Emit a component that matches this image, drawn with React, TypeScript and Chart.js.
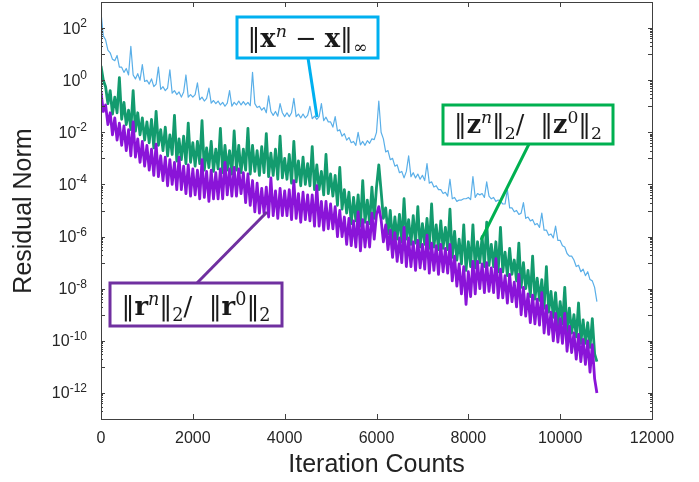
import React, { useEffect, useRef } from 'react';
import { Chart, registerables } from 'chart.js';

Chart.register(...registerables);

// ---- data (log10 of residual, one value every 50 iterations, 0 .. 10800) ----
const iterationStep = 50;

const blueLog10 = [
  2.6, 1.7, 1.55, 1.15, 1.05, 0.8, 0.75, 0.95, 0.5, 0.5,
  0.3, 0.45, 0.2, 1.3, 0.2, 0.05, 0.25, 0.0, 0.6, -0.05,
  0.0, -0.15, 0.05, -0.25, -0.15, 0.5, -0.35, -0.25, -0.4, -0.3,
  0.4, -0.5, -0.4, -0.55, -0.45, -0.65, -0.45, 0.2, -0.65, -0.55,
  -0.65, -0.55, -0.1, -0.75, -0.65, -0.8, -0.7, -0.3, -0.88, -0.78,
  -0.9, -0.8, -0.95, -0.85, -1.0, -0.88, -0.4, -1.0, -0.85, -0.95,
  -0.8, -0.95, -0.82, -0.95, -0.85, -0.98, 0.3, -0.9, -1.05, -1.0,
  -1.15, -1.05, -1.25, -0.6, -1.2, -1.35, -1.2, -1.38, -0.9, -1.25,
  -1.4, -1.25, -1.4, -1.25, -0.7, -1.4, -1.3, -1.45, -1.3, -1.45,
  -1.35, -1.0, -1.48, -1.38, -1.5, -1.4, -0.9, -1.55, -1.42, -1.6,
  -1.6, -1.8, -1.4, -1.95, -1.9, -2.15, -2.05, -2.3, -2.2, -2.4,
  -2.35, -2.5, -2.0, -2.48, -2.35, -2.5, -2.32, -2.42, -2.25, -2.28,
  -2.0, -0.8, -2.0, -2.25, -2.75, -2.7, -3.05, -3.0, -3.3, -3.25,
  -3.55, -3.5, -3.75, -3.5, -2.9, -3.7, -3.55, -3.75, -3.6, -3.8,
  -3.65, -3.85, -3.2, -3.95, -3.9, -4.1, -4.05, -4.2, -4.2, -4.35,
  -4.3, -4.45, -3.8, -4.55, -4.5, -4.65, -4.6, -4.6, -4.55, -4.55,
  -4.5, -4.58, -3.7, -4.5, -4.35, -4.4, -4.35, -4.5, -3.9, -4.45,
  -4.55, -4.5, -4.65, -4.6, -4.65, -4.75, -4.75, -4.2, -4.9, -4.9,
  -5.05, -5.0, -5.15, -5.1, -4.7, -5.3, -5.25, -5.4, -5.35, -5.55,
  -5.5, -5.65, -5.1, -5.75, -5.75, -5.95, -5.9, -6.05, -5.6, -6.15,
  -6.15, -6.35, -6.4, -6.65, -6.75, -6.75, -6.9, -7.15, -7.1, -7.35,
  -7.25, -7.5, -7.35, -7.65, -7.7, -7.95, -8.5,
];

const greenLog10 = [
  0.55, 0.0, -0.25, -0.9, -0.4, -1.3, -0.65, -1.25, 0.1, -1.5,
  -0.85, -1.7, -1.15, -1.9, -0.4, -1.95, -1.25, -2.1, -1.45, -2.3,
  -1.6, -2.4, -1.5, -2.6, -1.2, -2.5, -1.9, -2.7, -1.8, -2.9,
  -2.1, -2.85, -1.35, -3.1, -2.25, -3.05, -2.15, -3.2, -1.65, -3.15,
  -2.4, -3.3, -2.35, -3.2, -1.55, -3.45, -2.6, -3.35, -2.35, -3.5,
  -2.65, -3.4, -1.85, -3.55, -2.5, -3.45, -2.7, -3.6, -1.95, -3.45,
  -2.5, -3.55, -2.65, -3.45, -1.85, -3.6, -2.5, -3.5, -2.7, -3.65,
  -2.55, -3.55, -2.05, -3.7, -2.8, -3.65, -2.65, -3.8, -2.15, -3.75,
  -3.0, -3.8, -2.85, -3.95, -2.35, -3.9, -3.1, -4.05, -2.95, -4.0,
  -3.2, -4.05, -2.55, -4.2, -3.25, -4.2, -3.5, -4.4, -2.85, -4.35,
  -3.6, -4.45, -3.65, -4.8, -3.35, -4.95, -4.2, -5.1, -4.3, -5.5,
  -4.5, -5.4, -4.4, -5.6, -3.85, -5.45, -4.6, -5.5, -4.1, -5.3,
  -4.1, -3.25, -4.25, -5.3, -4.9, -5.9, -5.0, -6.2, -5.25, -6.1,
  -5.15, -6.2, -4.55, -6.1, -5.35, -6.3, -5.2, -6.25, -4.85, -6.4,
  -5.5, -6.3, -5.3, -6.45, -4.75, -6.4, -5.55, -6.5, -5.4, -6.45,
  -5.65, -6.5, -4.95, -6.8, -5.8, -6.9, -6.1, -7.05, -5.55, -7.3,
  -6.2, -7.15, -5.55, -7.2, -6.2, -7.0, -6.0, -7.15, -5.45, -7.1,
  -6.3, -7.15, -6.2, -7.35, -5.65, -7.35, -6.6, -7.5, -6.45, -7.45,
  -6.9, -7.7, -6.25, -7.95, -7.0, -8.0, -7.3, -8.3, -6.75, -8.4,
  -7.6, -8.45, -7.65, -8.75, -7.15, -8.9, -8.1, -9.1, -8.15, -9.4,
  -8.5, -9.35, -7.95, -9.65, -8.75, -9.7, -9.0, -9.85, -8.55, -10.1,
  -9.2, -10.1, -9.3, -10.25, -9.15, -10.5, -10.8,
];

const purpleLog10 = [
  -0.45, -1.2, -0.95, -1.7, -1.25, -2.1, -1.45, -2.3, -1.65, -2.5,
  -1.75, -2.7, -1.9, -2.9, -1.6, -2.95, -2.25, -3.15, -2.35, -3.3,
  -2.5, -3.45, -2.65, -3.65, -2.45, -3.7, -2.9, -3.85, -2.95, -4.05,
  -3.05, -4.0, -3.15, -4.2, -2.95, -4.2, -3.3, -4.35, -3.25, -4.45,
  -3.4, -4.4, -3.45, -4.55, -3.05, -4.5, -3.5, -4.65, -3.45, -4.55,
  -3.55, -4.55, -3.4, -4.55, -3.15, -4.4, -3.4, -4.45, -3.35, -4.45,
  -3.4, -4.35, -3.55, -4.7, -3.6, -4.8, -3.85, -5.05, -3.95, -5.1,
  -4.15, -5.1, -4.1, -5.25, -3.75, -5.2, -4.25, -5.3, -4.15, -5.2,
  -4.25, -5.2, -4.2, -5.35, -3.85, -5.3, -4.35, -5.45, -4.3, -5.35,
  -4.4, -5.4, -4.4, -5.6, -4.05, -5.6, -4.65, -5.75, -4.65, -5.7,
  -4.75, -5.7, -4.85, -6.0, -5.0, -6.0, -5.25, -6.3, -5.3, -6.35,
  -5.4, -6.4, -5.05, -6.55, -5.35, -6.4, -5.45, -6.4, -5.1, -6.1,
  -5.15, -4.85, -5.35, -6.2, -5.55, -6.5, -5.75, -6.8, -5.85, -6.95,
  -6.05, -7.0, -5.65, -7.15, -6.05, -7.15, -6.2, -7.3, -6.15, -7.2,
  -6.3, -7.25, -5.95, -7.4, -6.25, -7.3, -6.35, -7.45, -6.3, -7.35,
  -6.45, -7.4, -6.3, -7.7, -6.75, -7.9, -7.05, -8.2, -7.15, -8.6,
  -7.35, -8.3, -6.95, -8.2, -6.95, -8.0, -7.05, -8.15, -7.0, -8.1,
  -7.2, -8.15, -6.85, -8.35, -7.25, -8.35, -7.5, -8.55, -7.45, -8.5,
  -7.75, -8.7, -7.45, -9.0, -7.95, -9.05, -8.2, -9.3, -8.25, -9.35,
  -8.4, -9.4, -8.15, -9.7, -8.65, -9.75, -8.9, -10.0, -8.95, -10.05,
  -9.15, -10.1, -8.95, -10.4, -9.45, -10.45, -9.7, -10.7, -9.75, -10.8,
  -9.95, -10.9, -10.0, -11.2, -10.15, -11.45, -12.0,
];

const xTickValues = [0, 2000, 4000, 6000, 8000, 10000, 12000];
const yLabelExponents = [2, 0, -2, -4, -6, -8, -10, -12];
const xTitle = 'Iteration Counts';
const yTitle = 'Residual Norm';

type Seg = { t: string; b?: boolean; i?: boolean; sup?: boolean; sub?: boolean };

const blueLabel: Seg[] = [
  { t: '‖' }, { t: 'x', b: true }, { t: 'n', i: true, sup: true }, { t: ' − ' },
  { t: 'x', b: true }, { t: '‖' }, { t: '∞', sub: true },
];
const greenLabel: Seg[] = [
  { t: '‖' }, { t: 'z', b: true }, { t: 'n', i: true, sup: true }, { t: '‖' }, { t: '2', sub: true },
  { t: '/  ' }, { t: '‖' }, { t: 'z', b: true }, { t: '0', sup: true }, { t: '‖' }, { t: '2', sub: true },
];
const purpleLabel: Seg[] = [
  { t: '‖' }, { t: 'r', b: true }, { t: 'n', i: true, sup: true }, { t: '‖' }, { t: '2', sub: true },
  { t: '/  ' }, { t: '‖' }, { t: 'r', b: true }, { t: '0', sup: true }, { t: '‖' }, { t: '2', sub: true },
];

const SERIF = '"DejaVu Serif", "Liberation Serif", serif';
const SANS = '"Liberation Sans", Arial, sans-serif';

function segFont(s: Seg, size: number) {
  const sz = s.sup || s.sub ? size * 0.68 : size;
  return `${s.i ? 'italic ' : ''}${s.b ? 'bold ' : ''}${sz}px ${SERIF}`;
}

function drawMath(ctx: CanvasRenderingContext2D, segs: Seg[], cx: number, baseline: number, targetW: number) {
  const base = 20;
  let w = 0;
  for (const s of segs) {
    ctx.font = segFont(s, base);
    w += ctx.measureText(s.t).width;
  }
  const size = (base * targetW) / w;
  let x = cx - targetW / 2;
  ctx.fillStyle = '#1a1a1a';
  ctx.textAlign = 'left';
  ctx.textBaseline = 'alphabetic';
  for (const s of segs) {
    ctx.font = segFont(s, size);
    const dy = s.sup ? -size * 0.4 : s.sub ? size * 0.22 : 0;
    ctx.fillText(s.t, x, baseline + dy);
    x += ctx.measureText(s.t).width;
  }
}

type Callout = {
  segs: Seg[]; color: string;
  box: [number, number, number, number];
  textW: number; baseline: number;
  leader: [number, number, number, number];
};

const callouts: Callout[] = [
  { segs: blueLabel, color: '#00b0f0', box: [237, 17, 378, 58], textW: 120, baseline: 47, leader: [308, 58, 317, 117] },
  { segs: greenLabel, color: '#00b050', box: [443, 105, 613, 144], textW: 148, baseline: 133, leader: [529, 144, 481, 240] },
  { segs: purpleLabel, color: '#7030a0', box: [110, 283, 282, 326], textW: 149, baseline: 315, leader: [197, 283, 267, 212] },
];

const decorPlugin = {
  id: 'decor',
  afterDatasetsDraw(chart: any) {
    const { ctx, chartArea: a, scales } = chart;
    const x = scales.x;
    const y = scales.y;
    ctx.save();
    // frame
    ctx.strokeStyle = '#404040';
    ctx.lineWidth = 1;
    ctx.strokeRect(Math.round(a.left) + 0.5, Math.round(a.top) + 0.5, Math.round(a.right - a.left), Math.round(a.bottom - a.top));
    // x ticks (inward, bottom & top)
    ctx.beginPath();
    for (const v of xTickValues) {
      const px = Math.round(x.getPixelForValue(v)) + 0.5;
      ctx.moveTo(px, a.bottom); ctx.lineTo(px, a.bottom - 5);
      ctx.moveTo(px, a.top); ctx.lineTo(px, a.top + 5);
    }
    // y ticks (inward, left & right)
    for (let e = -13; e <= 3; e++) {
      const py = Math.round(y.getPixelForValue(Math.pow(10, e))) + 0.5;
      ctx.moveTo(a.left, py); ctx.lineTo(a.left + 4, py);
      ctx.moveTo(a.right, py); ctx.lineTo(a.right - 4, py);
      if (e % 2 === 0 && e > -13) {
        for (let k = 2; k <= 9; k++) {
          const pm = Math.round(y.getPixelForValue(k * Math.pow(10, e - 1))) + 0.5;
          ctx.moveTo(a.left, pm); ctx.lineTo(a.left + 2, pm);
          ctx.moveTo(a.right, pm); ctx.lineTo(a.right - 2, pm);
        }
      }
    }
    ctx.stroke();

    // y tick labels 10^e
    ctx.fillStyle = '#262626';
    ctx.textBaseline = 'alphabetic';
    ctx.textAlign = 'left';
    for (const e of yLabelExponents) {
      const py = y.getPixelForValue(Math.pow(10, e));
      const sup = String(e);
      ctx.font = `12px ${SANS}`;
      const sw = ctx.measureText(sup).width;
      ctx.font = `16px ${SANS}`;
      const bw = ctx.measureText('10').width;
      const right = a.left - 14;
      ctx.fillText('10', right - sw - bw, py + 5.5);
      ctx.font = `12px ${SANS}`;
      ctx.fillText(sup, right - sw, py - 1);
    }

    // axis titles
    ctx.fillStyle = '#222';
    ctx.font = `25px ${SANS}`;
    ctx.textAlign = 'center';
    ctx.textBaseline = 'middle';
    ctx.fillText(xTitle, (a.left + a.right) / 2, 465);
    ctx.save();
    ctx.translate(24, 211);
    ctx.rotate(-Math.PI / 2);
    ctx.fillText(yTitle, 0, 0);
    ctx.restore();

    // callouts
    for (const c of callouts) {
      ctx.strokeStyle = c.color;
      ctx.lineWidth = 3;
      ctx.beginPath();
      ctx.moveTo(c.leader[0], c.leader[1]);
      ctx.lineTo(c.leader[2], c.leader[3]);
      ctx.stroke();
      const [x0, y0, x1, y1] = c.box;
      ctx.fillStyle = '#ffffff';
      ctx.fillRect(x0, y0, x1 - x0, y1 - y0);
      ctx.strokeRect(x0, y0, x1 - x0, y1 - y0);
      drawMath(ctx, c.segs, (x0 + x1) / 2, c.baseline, c.textW);
    }
    ctx.restore();
  },
};

function toPoints(logs: number[]) {
  return logs.map((e, i) => ({ x: i * iterationStep, y: Math.pow(10, e) }));
}

export default function App() {
  const ref = useRef<HTMLCanvasElement>(null);
  useEffect(() => {
    document.body.style.margin = '0';
    const chart = new Chart(ref.current as HTMLCanvasElement, {
      type: 'line',
      data: {
        datasets: [
          { label: 'r', data: toPoints(purpleLog10), borderColor: '#8a14d8', borderWidth: 2.8, borderJoinStyle: 'round', pointRadius: 0, order: 0 },
          { label: 'z', data: toPoints(greenLog10), borderColor: '#139b6e', borderWidth: 2.8, borderJoinStyle: 'round', pointRadius: 0, order: 1 },
          { label: 'x', data: toPoints(blueLog10), borderColor: '#5aafe8', borderWidth: 1.2, borderJoinStyle: 'round', pointRadius: 0, order: 2 },
        ],
      },
      options: {
        animation: false,
        responsive: false,
        events: [],
        layout: { padding: { top: 2, right: 47, left: 0, bottom: 0 } },
        plugins: { legend: { display: false }, tooltip: { enabled: false }, title: { display: false } },
        elements: { line: { tension: 0 }, point: { radius: 0 } },
        scales: {
          x: {
            type: 'linear', min: 0, max: 12000,
            grid: { display: false, drawTicks: false },
            border: { display: false },
            ticks: {
              color: '#262626', padding: 10, maxRotation: 0, autoSkip: false,
              font: { family: SANS, size: 16 },
              callback: (v: any) => String(v),
            },
            afterBuildTicks: (s: any) => { s.ticks = xTickValues.map((v) => ({ value: v })); },
            afterFit: (s: any) => { s.height = 63; },
          },
          y: {
            type: 'logarithmic', min: 1e-13, max: 1e3,
            grid: { display: false, drawTicks: false },
            border: { display: false },
            ticks: { display: false },
            afterFit: (s: any) => { s.width = 101; },
          },
        },
      } as any,
      plugins: [decorPlugin],
    });
    return () => chart.destroy();
  }, []);
  return (
    <div style={{ width: 699, height: 482 }}>
      <canvas ref={ref} width={699} height={482} style={{ display: 'block' }} />
    </div>
  );
}
